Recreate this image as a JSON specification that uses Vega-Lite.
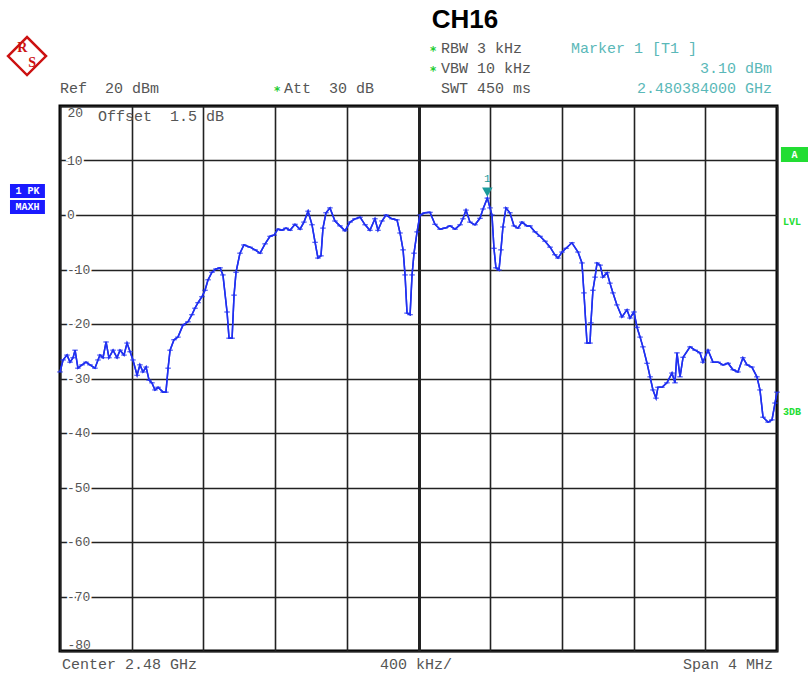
{
  "$schema": "https://vega.github.io/schema/vega-lite/v6.json",
  "width": 717,
  "height": 545,
  "autosize": {"type": "none"},
  "padding": {"left": 60, "top": 106, "right": 33, "bottom": 23},
  "background": "white",
  "config": {"view": {"stroke": "#000", "strokeWidth": 3}},
  "datasets": {
    "trace": [
      {"f":2478.000,"level":-28.8},{"f":2478.017,"level":-26.6},{"f":2478.039,"level":-25.7},{"f":2478.056,"level":-27.0},{"f":2478.073,"level":-26.2},{"f":2478.084,"level":-24.8},{"f":2478.100,"level":-28.1},{"f":2478.123,"level":-27.5},{"f":2478.145,"level":-27.0},{"f":2478.167,"level":-27.5},{"f":2478.195,"level":-28.1},{"f":2478.212,"level":-26.6},{"f":2478.223,"level":-25.7},{"f":2478.240,"level":-26.2},{"f":2478.257,"level":-23.3},{"f":2478.273,"level":-26.2},{"f":2478.296,"level":-24.8},{"f":2478.318,"level":-26.2},{"f":2478.335,"level":-24.8},{"f":2478.357,"level":-25.7},{"f":2478.374,"level":-23.5},{"f":2478.391,"level":-25.1},{"f":2478.407,"level":-26.6},{"f":2478.430,"level":-29.4},{"f":2478.446,"level":-27.5},{"f":2478.463,"level":-28.8},{"f":2478.480,"level":-27.9},{"f":2478.497,"level":-30.3},{"f":2478.513,"level":-30.8},{"f":2478.530,"level":-32.1},{"f":2478.547,"level":-31.6},{"f":2478.575,"level":-32.5},{"f":2478.591,"level":-32.5},{"f":2478.603,"level":-28.1},{"f":2478.614,"level":-24.8},{"f":2478.636,"level":-22.9},{"f":2478.658,"level":-22.4},{"f":2478.686,"level":-20.2},{"f":2478.714,"level":-19.6},{"f":2478.736,"level":-18.3},{"f":2478.753,"level":-17.1},{"f":2478.770,"level":-16.1},{"f":2478.792,"level":-15.0},{"f":2478.809,"level":-13.8},{"f":2478.826,"level":-11.9},{"f":2478.848,"level":-10.5},{"f":2478.870,"level":-9.9},{"f":2478.893,"level":-9.7},{"f":2478.909,"level":-11.0},{"f":2478.932,"level":-17.8},{"f":2478.943,"level":-22.6},{"f":2478.960,"level":-22.6},{"f":2478.971,"level":-14.7},{"f":2478.982,"level":-10.5},{"f":2479.004,"level":-7.0},{"f":2479.026,"level":-5.5},{"f":2479.060,"level":-5.9},{"f":2479.088,"level":-6.4},{"f":2479.116,"level":-7.0},{"f":2479.144,"level":-5.3},{"f":2479.172,"level":-3.9},{"f":2479.194,"level":-3.7},{"f":2479.216,"level":-2.6},{"f":2479.238,"level":-2.8},{"f":2479.261,"level":-2.4},{"f":2479.283,"level":-2.8},{"f":2479.311,"level":-1.7},{"f":2479.339,"level":-2.6},{"f":2479.361,"level":-1.3},{"f":2479.384,"level":0.7},{"f":2479.406,"level":-1.8},{"f":2479.423,"level":-5.0},{"f":2479.439,"level":-7.9},{"f":2479.456,"level":-7.5},{"f":2479.467,"level":-2.4},{"f":2479.484,"level":0.4},{"f":2479.506,"level":1.3},{"f":2479.534,"level":-1.1},{"f":2479.562,"level":-2.0},{"f":2479.590,"level":-2.9},{"f":2479.618,"level":-1.3},{"f":2479.646,"level":-0.7},{"f":2479.674,"level":-0.4},{"f":2479.702,"level":-1.8},{"f":2479.729,"level":-2.8},{"f":2479.757,"level":-0.7},{"f":2479.774,"level":-2.8},{"f":2479.796,"level":-1.1},{"f":2479.819,"level":0.0},{"f":2479.852,"level":-0.7},{"f":2479.880,"level":-0.9},{"f":2479.897,"level":-3.3},{"f":2479.914,"level":-6.4},{"f":2479.925,"level":-11.0},{"f":2479.936,"level":-18.0},{"f":2479.953,"level":-18.3},{"f":2479.964,"level":-11.0},{"f":2479.975,"level":-7.0},{"f":2479.992,"level":-3.1},{"f":2480.008,"level":0.0},{"f":2480.036,"level":0.4},{"f":2480.064,"level":0.5},{"f":2480.092,"level":-1.7},{"f":2480.120,"level":-2.6},{"f":2480.148,"level":-2.4},{"f":2480.176,"level":-2.0},{"f":2480.204,"level":-2.6},{"f":2480.232,"level":-1.8},{"f":2480.248,"level":-0.7},{"f":2480.265,"level":0.9},{"f":2480.287,"level":-1.3},{"f":2480.315,"level":-1.8},{"f":2480.343,"level":-0.6},{"f":2480.360,"level":1.1},{"f":2480.384,"level":3.1},{"f":2480.399,"level":1.3},{"f":2480.410,"level":0.0},{"f":2480.421,"level":-6.1},{"f":2480.432,"level":-9.7},{"f":2480.449,"level":-10.1},{"f":2480.460,"level":-6.4},{"f":2480.471,"level":-2.2},{"f":2480.488,"level":1.3},{"f":2480.510,"level":0.4},{"f":2480.533,"level":-2.0},{"f":2480.555,"level":-2.4},{"f":2480.577,"level":-1.3},{"f":2480.605,"level":-2.0},{"f":2480.622,"level":-2.0},{"f":2480.650,"level":-3.1},{"f":2480.678,"level":-3.9},{"f":2480.706,"level":-4.8},{"f":2480.734,"level":-5.9},{"f":2480.761,"level":-7.3},{"f":2480.778,"level":-7.9},{"f":2480.801,"level":-6.8},{"f":2480.823,"level":-6.1},{"f":2480.856,"level":-5.1},{"f":2480.890,"level":-6.8},{"f":2480.912,"level":-8.8},{"f":2480.923,"level":-14.3},{"f":2480.940,"level":-23.5},{"f":2480.957,"level":-23.5},{"f":2480.962,"level":-19.8},{"f":2480.973,"level":-13.8},{"f":2480.985,"level":-11.4},{"f":2480.996,"level":-8.8},{"f":2481.013,"level":-9.2},{"f":2481.029,"level":-11.4},{"f":2481.052,"level":-10.6},{"f":2481.068,"level":-12.5},{"f":2481.085,"level":-14.3},{"f":2481.107,"level":-16.5},{"f":2481.135,"level":-18.7},{"f":2481.163,"level":-17.4},{"f":2481.180,"level":-18.9},{"f":2481.202,"level":-17.8},{"f":2481.219,"level":-20.6},{"f":2481.236,"level":-22.4},{"f":2481.252,"level":-24.2},{"f":2481.275,"level":-27.2},{"f":2481.292,"level":-29.7},{"f":2481.308,"level":-32.1},{"f":2481.325,"level":-33.6},{"f":2481.336,"level":-31.6},{"f":2481.358,"level":-31.6},{"f":2481.386,"level":-30.8},{"f":2481.414,"level":-29.0},{"f":2481.431,"level":-30.8},{"f":2481.442,"level":-25.3},{"f":2481.459,"level":-29.7},{"f":2481.476,"level":-26.1},{"f":2481.515,"level":-24.2},{"f":2481.543,"level":-24.8},{"f":2481.570,"level":-25.3},{"f":2481.587,"level":-27.0},{"f":2481.615,"level":-24.8},{"f":2481.643,"level":-27.0},{"f":2481.671,"level":-27.0},{"f":2481.699,"level":-27.5},{"f":2481.727,"level":-27.2},{"f":2481.755,"level":-28.4},{"f":2481.782,"level":-28.8},{"f":2481.810,"level":-26.2},{"f":2481.833,"level":-27.5},{"f":2481.860,"level":-27.9},{"f":2481.888,"level":-29.7},{"f":2481.905,"level":-32.1},{"f":2481.922,"level":-37.1},{"f":2481.950,"level":-38.0},{"f":2481.972,"level":-37.6},{"f":2481.989,"level":-34.5},{"f":2482.000,"level":-32.5}
    ],
    "ylabels": [
      {"level":10},{"level":0},{"level":-10},{"level":-20},{"level":-30},{"level":-40},{"level":-50},{"level":-60},{"level":-70}
    ],
    "notes": [
      {"f":2480.259,"level":35.8,"text":"CH16","group":"title"},
      {"f":2478.000,"level":23.3,"text":"Ref\u00a0\u00a020 dBm","group":"info"},
      {"f":2479.250,"level":23.3,"text":"Att\u00a0\u00a030 dB","group":"info"},
      {"f":2480.126,"level":23.3,"text":"SWT 450 ms","group":"info"},
      {"f":2480.126,"level":30.64,"text":"RBW 3 kHz","group":"info"},
      {"f":2480.126,"level":26.97,"text":"VBW 10 kHz","group":"info"},
      {"f":2478.212,"level":18.17,"text":"Offset\u00a0\u00a01.5 dB","group":"info"},
      {"f":2478.011,"level":-82.39,"text":"Center 2.48 GHz","group":"info"},
      {"f":2479.785,"level":-82.39,"text":"400 kHz/","group":"info"},
      {"f":2481.978,"level":-82.39,"text":"Span 4 MHz","group":"inforight"},
      {"f":2480.851,"level":30.64,"text":"Marker 1 [T1 ]","group":"marker"},
      {"f":2481.972,"level":26.97,"text":"3.10 dBm","group":"markerright"},
      {"f":2481.972,"level":23.3,"text":"2.480384000 GHz","group":"markerright"},
      {"f":2480.081,"level":30.64,"text":"*","group":"star"},
      {"f":2480.081,"level":26.97,"text":"*","group":"star"},
      {"f":2479.211,"level":23.3,"text":"*","group":"star"},
      {"f":2482.033,"level":-1.28,"text":"LVL","group":"side"},
      {"f":2482.033,"level":-36.15,"text":"3DB","group":"side"},
      {"f":2477.790,"level":30.6,"text":"R","group":"logo"},
      {"f":2477.845,"level":27.9,"text":"S","group":"logo"},
      {"f":2477.818,"level":4.4,"text":"1 PK","group":"box"},
      {"f":2477.818,"level":1.47,"text":"MAXH","group":"box"},
      {"f":2482.097,"level":11.1,"text":"A","group":"box"}
    ],
    "boxes": [
      {"f":2477.721,"f2":2477.916,"level":5.69,"level2":3.12,"kind":"trace"},
      {"f":2477.721,"f2":2477.916,"level":2.75,"level2":0.18,"kind":"trace"},
      {"f":2482.022,"f2":2482.173,"level":12.48,"level2":9.72,"kind":"limit"}
    ]
  },
  "encoding": {
    "y": {"field": "level", "type": "quantitative",
      "scale": {"domain": [-80, 20], "nice": false, "zero": false},
      "axis": {"values": [-80, -70, -60, -50, -40, -30, -20, -10, 0, 10, 20],
        "ticks": false, "domain": false, "title": null, "grid": true, "gridColor": "#222", "gridWidth": 1.6,
        "labelAlign": "left", "labelPadding": -7, "labelFlush": true, "labelFont": "Liberation Mono",
        "labelFontSize": 13, "labelColor": "#555",
        "labelExpr": "(datum.value == 20 || datum.value == -80) ? ''+datum.value : ''"}}
  },
  "layer": [
    {"data": {"name": "trace"}, "mark": {"type": "line", "color": "#2030f0", "strokeWidth": 1.5},
      "encoding": {"x": {"field": "f", "type": "quantitative",
        "scale": {"domain": [2478, 2482], "nice": false, "zero": false},
        "axis": {"orient": "bottom", "values": [2478, 2478.4, 2478.8, 2479.2, 2479.6, 2480, 2480.4, 2480.8, 2481.2, 2481.6, 2482],
          "labels": false, "ticks": false, "domain": false, "title": null, "grid": true, "gridColor": "#222",
          "gridWidth": {"condition": {"test": "abs(datum.value-2480)<0.01", "value": 3}, "value": 1.6}}}}},
    {"data": {"name": "ylabels"},
      "mark": {"type": "text", "font": "Liberation Mono", "fontSize": 13, "color": "#fff", "stroke": "#fff", "strokeWidth": 4, "align": "left", "baseline": "middle", "dx": 7},
      "encoding": {"x": {"datum": 2478, "type": "quantitative"}, "text": {"field": "level", "type": "nominal"}}},
    {"data": {"name": "ylabels"},
      "mark": {"type": "text", "font": "Liberation Mono", "fontSize": 13, "color": "#555", "align": "left", "baseline": "middle", "dx": 7},
      "encoding": {"x": {"datum": 2478, "type": "quantitative"}, "text": {"field": "level", "type": "nominal"}}},
    {"data": {"name": "trace"}, "mark": {"type": "line", "color": "#2030f0", "strokeWidth": 1.5},
      "encoding": {"x": {"field": "f", "type": "quantitative"}}},
    {"data": {"name": "trace"}, "mark": {"type": "point", "shape": "stroke", "size": 30, "strokeWidth": 1, "color": "#2030f0", "opacity": 1},
      "encoding": {"x": {"field": "f", "type": "quantitative"}}},
    {"data": {"values": [{"f": 2480.384, "level": 3.1, "text": "1"}]},
      "mark": {"type": "point", "shape": "triangle-down", "filled": true, "size": 110, "color": "#1a9a9a", "opacity": 1, "yOffset": -6},
      "encoding": {"x": {"field": "f", "type": "quantitative"}}},
    {"data": {"values": [{"f": 2480.384, "level": 3.1, "text": "1"}]},
      "mark": {"type": "text", "color": "#1a9a9a", "font": "Liberation Mono", "fontSize": 11, "dy": -19},
      "encoding": {"x": {"field": "f", "type": "quantitative"}, "text": {"field": "text"}}},
    {"data": {"values": [{"f": 2477.816, "level": 29.17}]},
      "mark": {"type": "point", "shape": "diamond", "filled": false, "size": 1444, "color": "#cc1111", "strokeWidth": 2.5, "opacity": 1},
      "encoding": {"x": {"field": "f", "type": "quantitative"}}},
    {"data": {"name": "boxes"},
      "mark": {"type": "rect"},
      "encoding": {"x": {"field": "f", "type": "quantitative"}, "x2": {"field": "f2"}, "y2": {"field": "level2"},
        "color": {"field": "kind", "type": "nominal", "scale": {"domain": ["trace", "limit"], "range": ["#1a1aff", "#22dd33"]}, "legend": null}}},
    {"data": {"name": "notes"}, "transform": [{"filter": "datum.group == 'title'"}],
      "mark": {"type": "text", "font": "Liberation Sans", "fontWeight": "bold", "fontSize": 26, "color": "#000", "align": "center", "baseline": "middle"},
      "encoding": {"x": {"field": "f", "type": "quantitative"}, "text": {"field": "text"}}},
    {"data": {"name": "notes"}, "transform": [{"filter": "datum.group == 'info'"}],
      "mark": {"type": "text", "font": "Liberation Mono", "fontSize": 15, "color": "#555", "align": "left", "baseline": "middle"},
      "encoding": {"x": {"field": "f", "type": "quantitative"}, "text": {"field": "text"}}},
    {"data": {"name": "notes"}, "transform": [{"filter": "datum.group == 'inforight'"}],
      "mark": {"type": "text", "font": "Liberation Mono", "fontSize": 15, "color": "#555", "align": "right", "baseline": "middle"},
      "encoding": {"x": {"field": "f", "type": "quantitative"}, "text": {"field": "text"}}},
    {"data": {"name": "notes"}, "transform": [{"filter": "datum.group == 'marker'"}],
      "mark": {"type": "text", "font": "Liberation Mono", "fontSize": 15, "color": "#5ab8b8", "align": "left", "baseline": "middle"},
      "encoding": {"x": {"field": "f", "type": "quantitative"}, "text": {"field": "text"}}},
    {"data": {"name": "notes"}, "transform": [{"filter": "datum.group == 'markerright'"}],
      "mark": {"type": "text", "font": "Liberation Mono", "fontSize": 15, "color": "#5ab8b8", "align": "right", "baseline": "middle"},
      "encoding": {"x": {"field": "f", "type": "quantitative"}, "text": {"field": "text"}}},
    {"data": {"name": "notes"}, "transform": [{"filter": "datum.group == 'star'"}],
      "mark": {"type": "text", "font": "DejaVu Sans", "fontWeight": "bold", "fontSize": 12, "color": "#22cc33", "align": "center", "baseline": "middle", "dy": 3},
      "encoding": {"x": {"field": "f", "type": "quantitative"}, "text": {"field": "text"}}},
    {"data": {"name": "notes"}, "transform": [{"filter": "datum.group == 'side'"}],
      "mark": {"type": "text", "font": "Liberation Mono", "fontWeight": "bold", "fontSize": 10, "color": "#22dd33", "align": "left", "baseline": "middle"},
      "encoding": {"x": {"field": "f", "type": "quantitative"}, "text": {"field": "text"}}},
    {"data": {"name": "notes"}, "transform": [{"filter": "datum.group == 'logo'"}],
      "mark": {"type": "text", "font": "Liberation Serif", "fontWeight": "bold", "fontSize": 14, "color": "#cc1111", "align": "center", "baseline": "middle"},
      "encoding": {"x": {"field": "f", "type": "quantitative"}, "text": {"field": "text"}}},
    {"data": {"name": "notes"}, "transform": [{"filter": "datum.group == 'box'"}],
      "mark": {"type": "text", "font": "Liberation Mono", "fontWeight": "bold", "fontSize": 10, "color": "#fff", "align": "center", "baseline": "middle"},
      "encoding": {"x": {"field": "f", "type": "quantitative"}, "text": {"field": "text"}}}
  ]
}
